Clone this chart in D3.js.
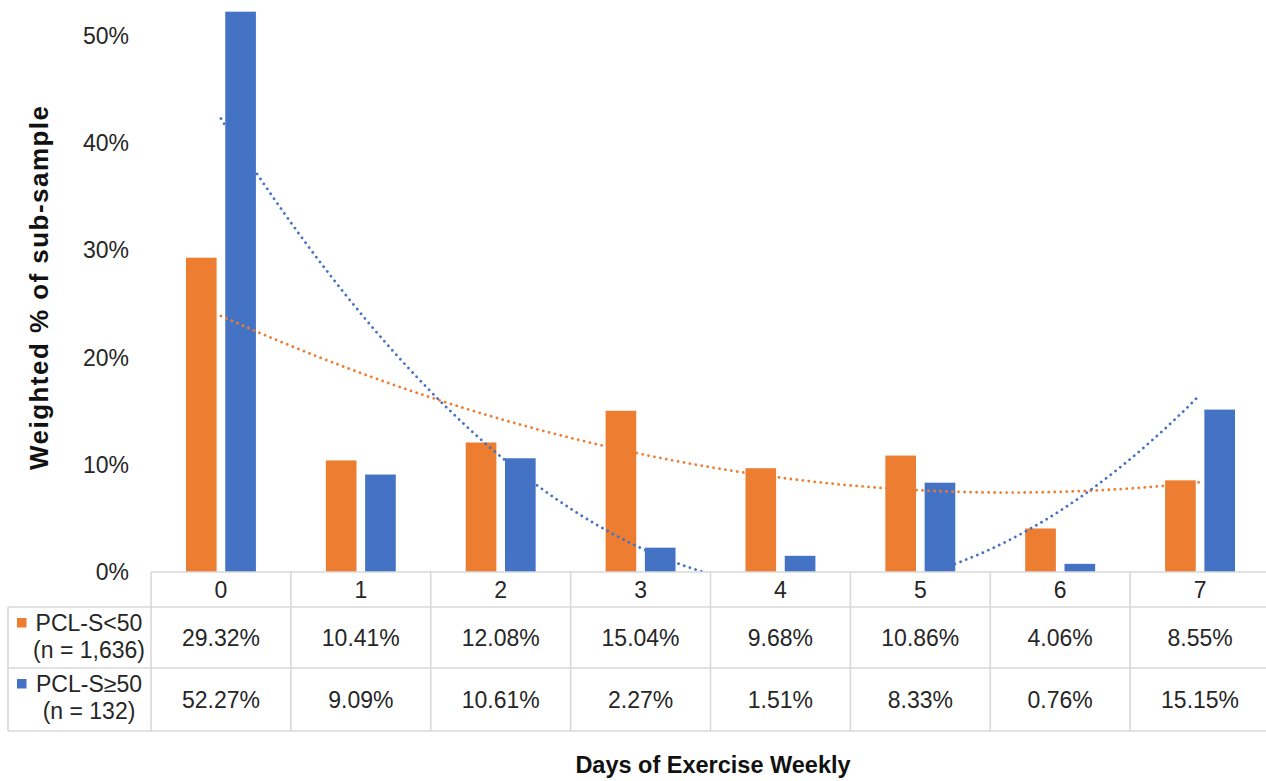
<!DOCTYPE html>
<html>
<head>
<meta charset="utf-8">
<script src="https://cdn.jsdelivr.net/npm/d3@7"></script>
<style>
  html, body { margin: 0; padding: 0; background: #fff; }
  svg { display: block; font-family: "Liberation Sans", Arial, sans-serif; }
</style>
</head>
<body>
<svg id="chart" width="1266" height="781"></svg>
<script>
// Days of exercise per week (categories)
const categories = ["0", "1", "2", "3", "4", "5", "6", "7"];

// Series names (two lines each) and colours
const seriesKeys = ["low", "high"];
const seriesLabels = [["PCL-S<50", "(n = 1,636)"], ["PCL-S\u226550", "(n = 132)"]];
const seriesColors = ["#ED7D31", "#4472C4"];

// Weighted % of sub-sample
const lowValues = [29.32, 10.41, 12.08, 15.04, 9.68, 10.86, 4.06, 8.55];
const highValues = [52.27, 9.09, 10.61, 2.27, 1.51, 8.33, 0.76, 15.15];

// Y axis ticks (%)
const yTicks = [0, 10, 20, 30, 40, 50];

const seriesValues = [lowValues, highValues];

const svg = d3.select("#chart");
const W = 1266, H = 781;

const plotLeft = 151, plotRight = 1270, plotBottom = 572, plotTop = 36;
const tableLeft = 8;
const rowLines = [572, 607, 668, 731];
const lineColor = "#d9d9d9";
const textColor = "#262626";

const x = d3.scaleBand().domain(categories).range([plotLeft, plotRight]).padding(0);
const bw = x.bandwidth();
const xs = d3.scaleBand().domain(seriesKeys).range([bw * 0.25, bw * 0.75]).paddingInner(0.22);
const y = d3.scaleLinear().domain([0, 50]).range([plotBottom, plotTop]);

// Bars
seriesKeys.forEach((k, si) => {
  svg.append("g").selectAll("rect")
    .data(seriesValues[si])
    .join("rect")
    .attr("x", (d, i) => x(categories[i]) + xs(k))
    .attr("y", d => y(d))
    .attr("width", xs.bandwidth())
    .attr("height", d => y(0) - y(d))
    .attr("fill", seriesColors[si]);
});

// Polynomial (order 2) least-squares trendline for each series
function quadFit(vals) {
  let s = [0, 0, 0, 0, 0], t = [0, 0, 0];
  vals.forEach((v, i) => {
    for (let p = 0; p <= 4; p++) s[p] += Math.pow(i, p);
    for (let p = 0; p <= 2; p++) t[p] += v * Math.pow(i, p);
  });
  const A = [[s[0], s[1], s[2], t[0]], [s[1], s[2], s[3], t[1]], [s[2], s[3], s[4], t[2]]];
  for (let c = 0; c < 3; c++) {
    for (let r = c + 1; r < 3; r++) {
      const f = A[r][c] / A[c][c];
      for (let k = c; k < 4; k++) A[r][k] -= f * A[c][k];
    }
  }
  const coef = [0, 0, 0];
  for (let r = 2; r >= 0; r--) {
    let sum = A[r][3];
    for (let k = r + 1; k < 3; k++) sum -= A[r][k] * coef[k];
    coef[r] = sum / A[r][r];
  }
  return xv => coef[0] + coef[1] * xv + coef[2] * xv * xv;
}

svg.append("clipPath").attr("id", "plotClip")
  .append("rect").attr("x", 0).attr("y", 0).attr("width", W).attr("height", plotBottom);

const xCont = d3.scaleLinear().domain([0, categories.length - 1])
  .range([x(categories[0]) + bw / 2, x(categories[categories.length - 1]) + bw / 2]);

seriesKeys.forEach((k, si) => {
  const f = quadFit(seriesValues[si]);
  const pts = d3.range(0, 7.0001, 0.05).map(v => [v, f(v)]);
  svg.append("path")
    .attr("clip-path", "url(#plotClip)")
    .attr("d", d3.line().x(d => xCont(d[0])).y(d => y(d[1]))(pts))
    .attr("fill", "none")
    .attr("stroke", seriesColors[si])
    .attr("stroke-width", 2.8)
    .attr("stroke-linecap", "round")
    .attr("stroke-dasharray", "0.01 6");
});

// Y axis tick labels
svg.append("g").selectAll("text")
  .data(yTicks)
  .join("text")
  .attr("x", 129)
  .attr("y", d => y(d))
  .attr("dy", "0.35em")
  .attr("text-anchor", "end")
  .attr("font-size", 23)
  .attr("fill", textColor)
  .text(d => d + "%");

// Data table grid
const grid = svg.append("g").attr("stroke", lineColor).attr("stroke-width", 1.6);
grid.append("line").attr("x1", plotLeft).attr("x2", plotRight).attr("y1", rowLines[0]).attr("y2", rowLines[0]);
rowLines.slice(1).forEach(yy => {
  grid.append("line").attr("x1", tableLeft).attr("x2", plotRight).attr("y1", yy).attr("y2", yy);
});
grid.append("line").attr("x1", tableLeft).attr("x2", tableLeft).attr("y1", rowLines[1]).attr("y2", rowLines[3]);
categories.concat(["end"]).forEach((c, i) => {
  const xx = i < categories.length ? x(c) : plotRight;
  grid.append("line").attr("x1", xx).attr("x2", xx).attr("y1", rowLines[0]).attr("y2", rowLines[3]);
});

// Category header row
svg.append("g").selectAll("text")
  .data(categories)
  .join("text")
  .attr("x", d => x(d) + bw / 2)
  .attr("y", (rowLines[0] + rowLines[1]) / 2)
  .attr("dy", "0.35em")
  .attr("text-anchor", "middle")
  .attr("font-size", 23)
  .attr("fill", textColor)
  .text(d => d);

// Value rows
seriesKeys.forEach((k, si) => {
  const cy = (rowLines[si + 1] + rowLines[si + 2]) / 2;
  svg.append("g").selectAll("text")
    .data(seriesValues[si])
    .join("text")
    .attr("x", (d, i) => x(categories[i]) + bw / 2)
    .attr("y", cy)
    .attr("dy", "0.35em")
    .attr("text-anchor", "middle")
    .attr("font-size", 23)
    .attr("fill", textColor)
    .text(d => d.toFixed(2) + "%");

  // Legend cell: key square + two-line label
  const top = rowLines[si + 1];
  svg.append("rect")
    .attr("x", 17).attr("y", top + 11).attr("width", 9.5).attr("height", 9.5)
    .attr("fill", seriesColors[si]);
  seriesLabels[si].forEach((ln, li) => {
    svg.append("text")
      .attr("x", 89)
      .attr("y", top + 23.5 + li * 27.5)
      .attr("text-anchor", "middle")
      .attr("font-size", 23)
      .attr("fill", textColor)
      .text(ln);
  });
});

// Axis titles
svg.append("text")
  .attr("x", 713)
  .attr("y", 773)
  .attr("text-anchor", "middle")
  .attr("font-size", 23.5)
  .attr("font-weight", "bold")
  .attr("fill", "#111")
  .text("Days of Exercise Weekly");

svg.append("text")
  .attr("transform", "translate(48,288) rotate(-90)")
  .attr("text-anchor", "middle")
  .attr("font-size", 26)
  .attr("font-weight", "bold")
  .attr("fill", "#111")
  .attr("textLength", 364)
  .attr("lengthAdjust", "spacing")
  .text("Weighted % of sub-sample");
</script>
</body>
</html>
